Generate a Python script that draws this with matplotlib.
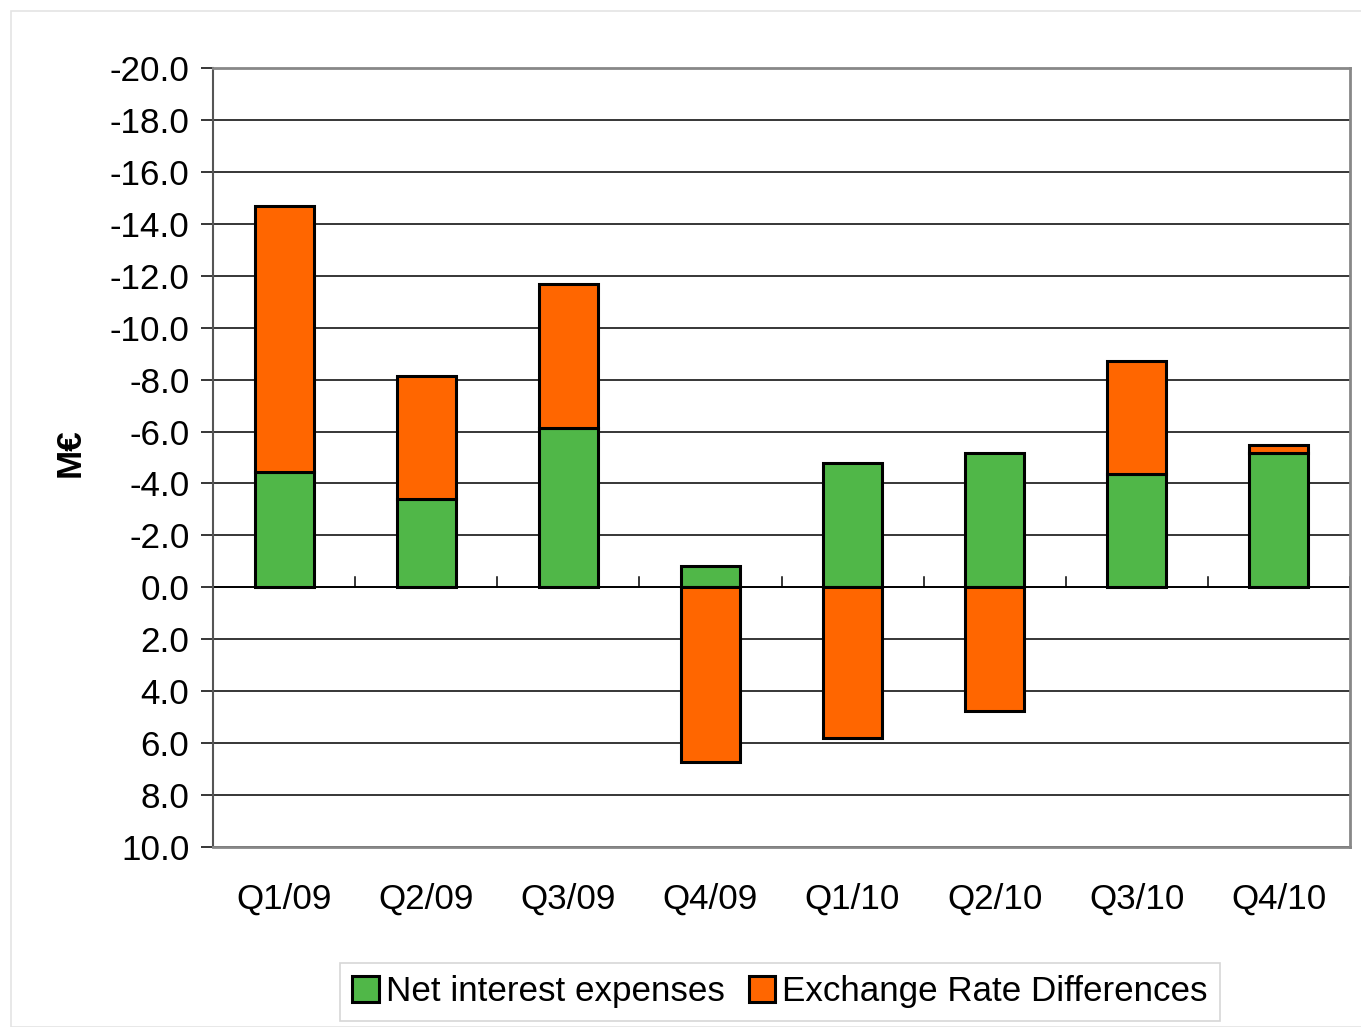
import matplotlib
matplotlib.use("Agg")
import matplotlib.pyplot as plt
import numpy as np
from matplotlib.patches import Rectangle

quarters = ["Q1/09", "Q2/09", "Q3/09", "Q4/09", "Q1/10", "Q2/10", "Q3/10", "Q4/10"]
net_interest = [-4.46, -3.42, -6.12, -0.81, -4.77, -5.19, -4.35, -5.19]
fx_differences = [-10.24, -4.73, -5.58, 6.73, 5.81, 4.77, -4.35, -0.31]
y_ticks = [-20, -18, -16, -14, -12, -10, -8, -6, -4, -2, 0, 2, 4, 6, 8, 10]

GREEN = "#50B748"
ORANGE = "#FF6600"
FS = 25.2

plt.rcParams["font.family"] = ["Liberation Sans", "DejaVu Sans"]

fig = plt.figure(figsize=(13.61, 10.27), dpi=100)
fig.patches.append(Rectangle((11 / 1361, 0), 1, 1 - 11 / 1027, transform=fig.transFigure,
                             fill=False, edgecolor="#e4e4e4", linewidth=1.2))
ax = fig.add_axes([213 / 1361, 1 - 847 / 1027, (1350 - 213) / 1361, (847 - 68) / 1027])

x = np.arange(len(quarters))
net = np.array(net_interest)
fx = np.array(fx_differences)

# stack each series on the same side of zero
fx_bottom = np.where(np.sign(fx) == np.sign(net), net, 0.0)

width = 0.415
ax.bar(x, net, width, color=GREEN, edgecolor="black", linewidth=2.2, zorder=3,
       label="Net interest expenses")
ax.bar(x, fx, width, bottom=fx_bottom, color=ORANGE, edgecolor="black", linewidth=2.2,
       zorder=3, label="Exchange Rate Differences")

ax.set_xlim(-0.5, len(quarters) - 0.5)
ax.set_ylim(10, -20)
ax.set_yticks(y_ticks)
ax.set_yticklabels([f"{v:.1f}" for v in y_ticks])
ax.yaxis.grid(True, color="black", linewidth=1.1, zorder=1)
ax.set_axisbelow(True)

# category axis runs along zero with small separator ticks
ax.axhline(0, color="black", linewidth=1.3, zorder=2)
for b in np.arange(0.5, len(quarters), 1.0):
    ax.plot([b, b], [0, -0.38], color="black", linewidth=1.1, zorder=2)

ax.set_xticks(x)
ax.set_xticklabels(quarters)
ax.tick_params(axis="x", length=0, pad=26, labelsize=FS)
ax.tick_params(axis="y", length=9, width=1.1, direction="out", labelsize=FS, pad=8)

for side in ["top", "right", "bottom"]:
    ax.spines[side].set_color("#888888")
    ax.spines[side].set_linewidth(2)
ax.spines["left"].set_color("#555555")
ax.spines["left"].set_linewidth(1.5)

fig.text(70 / 1361, 1 - 453 / 1027, "M€", rotation=90, ha="center", va="center",
         fontsize=FS, fontweight="bold")

leg = fig.legend(loc="center", bbox_to_anchor=(780 / 1361, 1 - 992 / 1027), ncol=2,
                 fontsize=FS, frameon=True, fancybox=False, edgecolor="#cccccc",
                 handlelength=0.75, handleheight=0.75, handletextpad=0.2,
                 columnspacing=0.7, borderpad=0.35, borderaxespad=0)
leg.get_frame().set_linewidth(1.2)

fig.savefig("out.png", dpi=100)
